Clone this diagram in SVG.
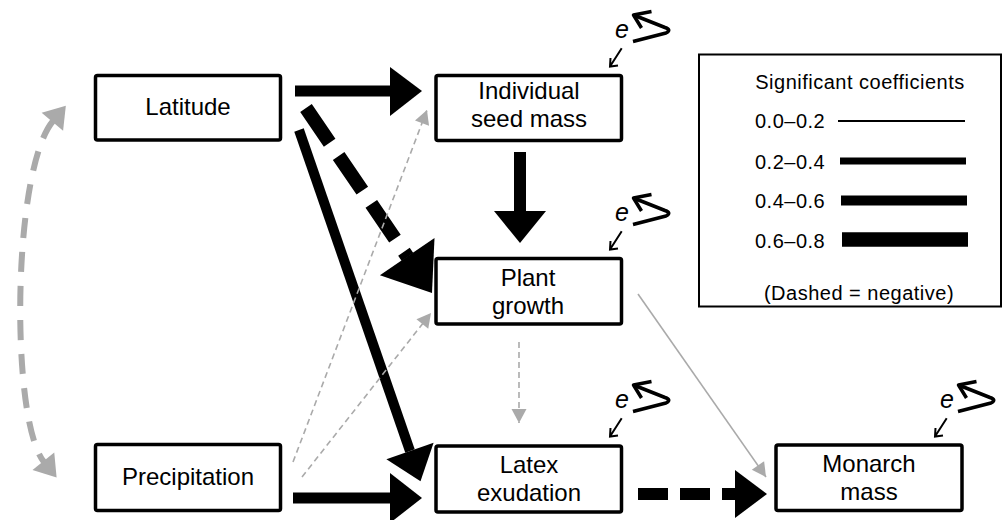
<svg xmlns="http://www.w3.org/2000/svg" width="1004" height="520" viewBox="0 0 1004 520">
<style>
.box{fill:#fff;stroke:#000;stroke-width:3.5}
.lbl{font-family:"Liberation Sans",Arial,sans-serif;font-size:24px;fill:#000;text-anchor:middle}
.leg{font-family:"Liberation Sans",Arial,sans-serif;font-size:20px;letter-spacing:0.5px;fill:#000}
.blk{stroke:#000;fill:none}
.gry{stroke:#aaa;stroke-width:1.6;fill:none}
.gd{stroke-dasharray:6 4}
.e{font-family:"Liberation Sans",Arial,sans-serif;font-size:25px;font-style:italic;fill:#000}
.curl{fill:none;stroke:#000;stroke-width:3.5;stroke-linejoin:round}
.earr{fill:none;stroke:#000;stroke-width:2}
</style>
<defs>
<marker id="ga" markerUnits="userSpaceOnUse" markerWidth="20" markerHeight="20" viewBox="0 -10 20 20" refX="14" refY="0" orient="auto" overflow="visible"><path d="M0,-7.5 L14,0 L0,7.5 Z" fill="#aaa"/></marker>
<marker id="arcA" markerUnits="userSpaceOnUse" markerWidth="26" markerHeight="30" viewBox="0 -15 26 30" refX="1" refY="0" orient="auto-start-reverse" overflow="visible"><path d="M0,-14 L21,0 L0,14 Z" fill="#aaa"/></marker>
</defs>

<g id="connectors">
  <!-- correlation arc -->
  <path d="M 53 121 C 12 170, 10 420, 44 462" fill="none" stroke="#aaa" stroke-width="6" stroke-dasharray="20 14" marker-start="url(#arcA)" marker-end="url(#arcA)"/>
  <!-- Latitude -> seed mass -->
  <line class="blk" x1="295" y1="91" x2="392" y2="91" stroke-width="11"/>
  <polygon points="390,67 422,91 390,116" fill="#000"/>
  <!-- Latitude -> plant growth (dashed) -->
  <line class="blk" x1="306" y1="108" x2="407.5" y2="257" stroke-width="14" stroke-dasharray="42 16"/>
  <polygon points="434.5,238 432,293 379.9,275.2" fill="#000"/>
  <!-- Latitude -> latex -->
  <line class="blk" x1="299" y1="130" x2="410" y2="451" stroke-width="10"/>
  <polygon points="433.6,442.8 420.5,481.2 386.4,459.2" fill="#000"/>
  <!-- Precipitation -> latex -->
  <line class="blk" x1="293" y1="498" x2="392" y2="498" stroke-width="11"/>
  <polygon points="390,473 422,498 390,523" fill="#000"/>
  <!-- seed mass -> plant growth -->
  <line class="blk" x1="520" y1="152" x2="520" y2="213" stroke-width="12"/>
  <polygon points="494,211 546,211 520,243" fill="#000"/>
  <!-- latex -> monarch (dashed) -->
  <line class="blk" x1="638" y1="494" x2="737" y2="494" stroke-width="12" stroke-dasharray="30 12"/>
  <polygon points="735,470 767,494 735,518" fill="#000"/>
  <!-- thin grey paths -->
  <line class="gry" x1="638" y1="294" x2="766" y2="477" marker-end="url(#ga)"/>
  <line class="gry gd" x1="519" y1="342" x2="519" y2="423" marker-end="url(#ga)"/>
  <line class="gry gd" x1="293" y1="462" x2="427" y2="110" marker-end="url(#ga)"/>
  <line class="gry gd" x1="302" y1="477" x2="431" y2="313" marker-end="url(#ga)"/>
</g>

<g id="latitude">
  <rect class="box" x="95.5" y="75.5" width="185" height="64.5" rx="2"/>
  <text class="lbl" x="188" y="115">Latitude</text>
</g>
<g id="seedmass">
  <rect class="box" x="436" y="75.5" width="185.5" height="65" rx="2"/>
  <text class="lbl" x="529" y="99">Individual</text>
  <text class="lbl" x="529" y="127">seed mass</text>
</g>
<g id="plantgrowth">
  <rect class="box" x="436" y="258.5" width="185.5" height="65.5" rx="2"/>
  <text class="lbl" x="528" y="286">Plant</text>
  <text class="lbl" x="528" y="314">growth</text>
</g>
<g id="precipitation">
  <rect class="box" x="95.5" y="444.5" width="185" height="66" rx="2"/>
  <text class="lbl" x="188" y="485">Precipitation</text>
</g>
<g id="latex">
  <rect class="box" x="436" y="446" width="185.5" height="66" rx="2"/>
  <text class="lbl" x="529" y="473">Latex</text>
  <text class="lbl" x="529" y="501">exudation</text>
</g>
<g id="monarch">
  <rect class="box" x="776" y="445" width="186" height="65.5" rx="2"/>
  <text class="lbl" x="869" y="472">Monarch</text>
  <text class="lbl" x="869" y="500">mass</text>
</g>

<g id="err-seed" transform="translate(615,38)">
  <text class="e" x="0" y="0">e</text>
  <path class="curl" d="M 18.5 -23 L 50 -10.5 Q 57 -8 51 -5 L 18 3.5"/>
  <path class="curl" d="M 36.5 -26.5 L 18.5 -23 L 26.5 -10"/>
  <path class="earr" d="M 6.7 10.3 L -5 28.5 M -4.5 20 L -5 28.5 L 3 27.5"/>
</g>
<g id="err-plant" transform="translate(615,221)">
  <text class="e" x="0" y="0">e</text>
  <path class="curl" d="M 18.5 -23 L 50 -10.5 Q 57 -8 51 -5 L 18 3.5"/>
  <path class="curl" d="M 36.5 -26.5 L 18.5 -23 L 26.5 -10"/>
  <path class="earr" d="M 6.7 10.3 L -5 28.5 M -4.5 20 L -5 28.5 L 3 27.5"/>
</g>
<g id="err-latex" transform="translate(615,408)">
  <text class="e" x="0" y="0">e</text>
  <path class="curl" d="M 18.5 -23 L 50 -10.5 Q 57 -8 51 -5 L 18 3.5"/>
  <path class="curl" d="M 36.5 -26.5 L 18.5 -23 L 26.5 -10"/>
  <path class="earr" d="M 6.7 10.3 L -5 28.5 M -4.5 20 L -5 28.5 L 3 27.5"/>
</g>
<g id="err-monarch" transform="translate(940,408)">
  <text class="e" x="0" y="0">e</text>
  <path class="curl" d="M 18.5 -23 L 50 -10.5 Q 57 -8 51 -5 L 18 3.5"/>
  <path class="curl" d="M 36.5 -26.5 L 18.5 -23 L 26.5 -10"/>
  <path class="earr" d="M 6.7 10.3 L -5 28.5 M -4.5 20 L -5 28.5 L 3 27.5"/>
</g>

<g id="legend">
  <rect x="699" y="54.5" width="302" height="252" fill="#fff" stroke="#000" stroke-width="2"/>
  <text class="leg" x="860" y="89" text-anchor="middle">Significant coefficients</text>
  <text class="leg" x="755" y="128">0.0–0.2</text>
  <line x1="838" y1="121" x2="965" y2="121" stroke="#000" stroke-width="2"/>
  <text class="leg" x="755" y="169">0.2–0.4</text>
  <line x1="840" y1="161" x2="966" y2="161" stroke="#000" stroke-width="7"/>
  <text class="leg" x="755" y="208">0.4–0.6</text>
  <line x1="841" y1="200.5" x2="967" y2="200.5" stroke="#000" stroke-width="10"/>
  <text class="leg" x="755" y="248">0.6–0.8</text>
  <line x1="842" y1="239.5" x2="968" y2="239.5" stroke="#000" stroke-width="14.5"/>
  <text class="leg" x="859" y="300" text-anchor="middle">(Dashed = negative)</text>
</g>
</svg>
